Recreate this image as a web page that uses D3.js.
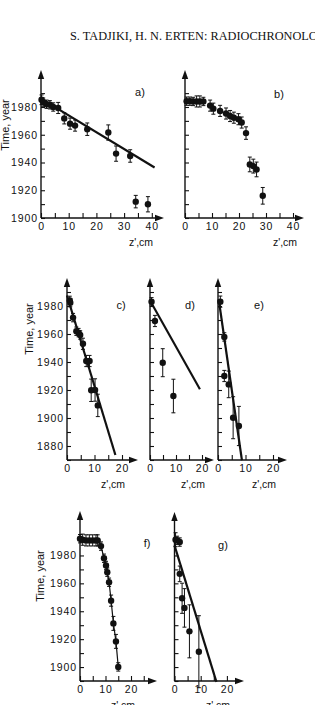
<!DOCTYPE html>
<html>
<head>
<meta charset="utf-8">
<script src="https://cdn.jsdelivr.net/npm/d3@7"></script>
<style>
  body { margin: 0; background: #fff; }
  svg { display: block; }
</style>
</head>
<body>
<svg id="chart" width="315" height="705"></svg>
<script>
// depth z' (cm), year, error (yr)
const aZ    = [0.2, 0.8, 2.0, 3.2, 4.4, 6.2, 8.4, 10.5, 12.3, 16.7, 24.3, 27.1, 32.2, 34.2, 38.6];
const aYear = [1985.2, 1983.5, 1982, 1981.6, 1980, 1979.3, 1971.8, 1968, 1966.6, 1964, 1961.6, 1946.4, 1944.7, 1911.8, 1909.9];
const aErr  = [3.5, 3, 3, 3, 3, 4, 4, 4, 4, 4.5, 5.5, 5.5, 4.5, 4.5, 5.5];
const aFitZ = [0, 41];
const aFitT = [1986, 1936.4];

const bZ    = [0.6, 1.8, 3.0, 4.3, 5.5, 6.8, 9.3, 10.5, 13, 15.2, 16.7, 18.1, 19.8, 21, 22.6, 24, 25.3, 26.5, 28.8];
const bYear = [1984.2, 1984.2, 1984, 1984, 1984, 1984, 1981, 1978.8, 1977.2, 1975.3, 1973.5, 1972.3, 1971.2, 1968.8, 1961.2, 1938.6, 1937.4, 1935, 1916];
const bErr  = [3, 3, 3, 4, 4, 3, 4, 4, 4, 4, 4, 4, 4, 4, 4.5, 5.3, 5, 5.3, 6];

const cZ    = [1, 1.2, 2.2, 3.4, 4.2, 4.8, 5.8, 7, 8.2, 8.8, 10.2, 11.2];
const cYear = [1984, 1982.4, 1971.7, 1962, 1961, 1959.3, 1953, 1940.7, 1940.7, 1919.8, 1920, 1909];
const cErr  = [3, 3, 3, 3, 3, 3, 4, 4, 4, 8, 8, 8];
const cFitZ = [0, 17.6];
const cFitT = [1987.5, 1873.6];

const dZ    = [0.6, 1.9, 4.9, 9.0];
const dYear = [1983, 1969.3, 1939.5, 1915.7];
const dErr  = [3, 4, 10, 12];
const dFitZ = [0.6, 19.2];
const dFitT = [1982, 1920.5];

const eZ    = [0.85, 2.3, 2.3, 3.9, 5.5, 7.6];
const eYear = [1983.1, 1957.9, 1930, 1924, 1900.2, 1894.3];
const eErr  = [4, 3, 4, 9.5, 15, 14];
const eFitZ = [0.25, 8.7];
const eFitT = [1984.8, 1869.8];

const fZ    = [0, 1.05, 2.35, 3.66, 4.97, 6.27, 6.93, 8.24, 9.41, 10.2, 10.7, 11.4, 12.2, 13.1, 14.1, 15.0];
const fYear = [1992, 1991.3, 1990.8, 1990.8, 1990.8, 1990.8, 1990.8, 1986.7, 1978, 1972.8, 1968, 1960.8, 1947.6, 1931.3, 1918.4, 1900.1];
const fErr  = [3, 4, 4, 4, 4, 4, 4, 3, 3, 3, 3, 3, 4, 5, 5, 3];

const gZ    = [0.4, 1.0, 2.0, 2.0, 2.9, 3.8, 5.7, 9.3];
const gYear = [1991.3, 1990.8, 1989.6, 1966.8, 1949.3, 1942.4, 1925.6, 1911];
const gErr  = [5, 3, 3, 5.6, 10.8, 13.8, 19, 25.8];
const gFitZ = [0, 16.0];
const gFitT = [1987.2, 1889.4];

const zTicks = [0, 10, 20, 30, 40];
const zTicksShort = [0, 10, 20];

// panel frames (pixels)
const panels = [
  { name: 'a)', z: aZ, t: aYear, e: aErr, fitZ: aFitZ, fitT: aFitT, left: 41, bottom: 218, top: 70, right: 164,
    xMax: 40, pxCm: 2.77, yMin: 1900, pxYr: 1.3875, yLabels: true, xLabels: zTicks,
    letter: [140, 96], zl: [141, 246], timeLabel: [9, 125] },
  { name: 'b)', z: bZ, t: bYear, e: bErr, left: 185, bottom: 218, top: 70, right: 304,
    xMax: 40, pxCm: 2.7, yMin: 1900, pxYr: 1.3875, yLabels: false, xLabels: zTicks,
    letter: [279, 98], zl: [285, 246] },
  { name: 'c)', z: cZ, t: cYear, e: cErr, fitZ: cFitZ, fitT: cFitT, left: 67, bottom: 460, top: 278, right: 138,
    xMax: 20, pxCm: 2.75, yMin: 1870, pxYr: 1.4, yLabels: true, xLabels: zTicksShort,
    letter: [121, 309], zl: [113, 488], timeLabel: [33, 329] },
  { name: 'd)', z: dZ, t: dYear, e: dErr, fitZ: dFitZ, fitT: dFitT, left: 150, bottom: 460, top: 278, right: 214,
    xMax: 20, pxCm: 2.6, yMin: 1870, pxYr: 1.4, yLabels: false, xLabels: zTicksShort,
    letter: [190, 309], zl: [193, 488] },
  { name: 'e)', z: eZ, t: eYear, e: eErr, fitZ: eFitZ, fitT: eFitT, left: 218, bottom: 460, top: 278, right: 287,
    xMax: 20, pxCm: 2.75, yMin: 1870, pxYr: 1.4, yLabels: false, xLabels: zTicksShort,
    letter: [259, 309], zl: [264, 488] },
  { name: 'f)', z: fZ, t: fYear, e: fErr, connect: true, left: 80, bottom: 681, top: 511, right: 157,
    xMax: 25, pxCm: 2.55, yMin: 1890, pxYr: 1.395, yLabels: true, xLabels: zTicksShort,
    letter: [147, 547], zl: [123, 709], timeLabel: [44, 576] },
  { name: 'g)', z: gZ, t: gYear, e: gErr, fitZ: gFitZ, fitT: gFitT, left: 174.5, bottom: 681, top: 512, right: 244,
    xMax: 20, pxCm: 2.62, yMin: 1890, pxYr: 1.395, yLabels: false, xLabels: zTicksShort,
    letter: [223, 549], zl: [218, 709] }
];

const svg = d3.select('#chart');
const font = '"Liberation Sans", Arial, sans-serif';

svg.append('text')
  .attr('x', 70).attr('y', 40)
  .attr('font-family', '"Liberation Serif", "Times New Roman", serif')
  .attr('font-size', 12.3)
  .attr('fill', '#111')
  .text('S. TADJIKI, H. N. ERTEN: RADIOCHRONOLOGY');

function drawPanel(p) {
  const g = svg.append('g');
  const x = d3.scaleLinear().domain([0, p.xMax]).range([p.left, p.left + p.xMax * p.pxCm]);
  const y = d3.scaleLinear().domain([p.yMin, p.yMin + 100]).range([p.bottom, p.bottom - 100 * p.pxYr]);

  const xAxis = d3.axisBottom(x)
    .tickValues(d3.range(0, p.xMax + 1, 5))
    .tickSize(-5).tickSizeOuter(0).tickPadding(4.5)
    .tickFormat(d => p.xLabels.includes(d) ? d : '');
  const gx = g.append('g').attr('transform', `translate(0,${p.bottom})`).call(xAxis);

  const yAxis = d3.axisLeft(y)
    .tickValues(d3.range(p.yMin, 1991, 10))
    .tickSize(-4).tickSizeOuter(0).tickPadding(3)
    .tickFormat(d => (p.yLabels && d % 20 === 0 && d <= 1980) ? d : '');
  const gy = g.append('g').attr('transform', `translate(${p.left},0)`).call(yAxis);

  [gx, gy].forEach(a => {
    a.select('.domain').remove();
    a.selectAll('line').attr('stroke', '#111').attr('stroke-width', 1.1);
    a.selectAll('text').attr('font-family', font).attr('font-size', 10.5)
      .attr('letter-spacing', 0.9).attr('fill', '#111');
  });

  // axis lines with arrow heads
  g.append('line').attr('x1', p.left).attr('x2', p.left).attr('y1', p.bottom).attr('y2', p.top + 5)
    .attr('stroke', '#111').attr('stroke-width', 1.4);
  g.append('line').attr('x1', p.left).attr('x2', p.right - 5).attr('y1', p.bottom).attr('y2', p.bottom)
    .attr('stroke', '#111').attr('stroke-width', 1.4);
  g.append('path')
    .attr('d', `M${p.left},${p.top}L${p.left - 3.2},${p.top + 9}L${p.left + 3.2},${p.top + 9}Z`)
    .attr('fill', '#111');
  g.append('path')
    .attr('d', `M${p.right},${p.bottom}L${p.right - 9},${p.bottom - 3.2}L${p.right - 9},${p.bottom + 3.2}Z`)
    .attr('fill', '#111');

  const pts = p.z.map((z, i) => ({ z, t: p.t[i], e: p.e[i] }));

  if (p.fitZ) {
    g.append('path')
      .datum(p.fitZ.map((z, i) => [z, p.fitT[i]]))
      .attr('d', d3.line().x(d => x(d[0])).y(d => y(d[1])))
      .attr('fill', 'none').attr('stroke', '#111').attr('stroke-width', 2.2);
  }
  if (p.connect) {
    g.append('path')
      .datum(pts)
      .attr('d', d3.line().x(d => x(d.z)).y(d => y(d.t)))
      .attr('fill', 'none').attr('stroke', '#111').attr('stroke-width', 1.2);
  }

  const eb = g.selectAll('g.eb').data(pts).join('g').attr('class', 'eb')
    .attr('stroke', '#111').attr('stroke-width', 1);
  eb.append('line').attr('x1', d => x(d.z)).attr('x2', d => x(d.z))
    .attr('y1', d => y(d.t - d.e)).attr('y2', d => y(d.t + d.e));
  eb.append('line').attr('x1', d => x(d.z) - 2).attr('x2', d => x(d.z) + 2)
    .attr('y1', d => y(d.t - d.e)).attr('y2', d => y(d.t - d.e));
  eb.append('line').attr('x1', d => x(d.z) - 2).attr('x2', d => x(d.z) + 2)
    .attr('y1', d => y(d.t + d.e)).attr('y2', d => y(d.t + d.e));

  g.selectAll('circle').data(pts).join('circle')
    .attr('cx', d => x(d.z)).attr('cy', d => y(d.t)).attr('r', 3.2)
    .attr('fill', '#111');

  g.append('text').attr('x', p.letter[0]).attr('y', p.letter[1])
    .attr('text-anchor', 'middle').attr('font-family', font).attr('font-size', 11)
    .attr('fill', '#111').text(p.name);

  g.append('text').attr('x', p.zl[0]).attr('y', p.zl[1])
    .attr('text-anchor', 'middle').attr('font-family', font).attr('font-size', 10.5)
    .attr('fill', '#111').text("z',cm");

  if (p.timeLabel) {
    g.append('text')
      .attr('transform', `translate(${p.timeLabel[0]},${p.timeLabel[1]}) rotate(-90)`)
      .attr('text-anchor', 'middle').attr('font-family', font).attr('font-size', 11)
      .attr('fill', '#111').text('Time, year');
  }
}

panels.forEach(drawPanel);
</script>
</body>
</html>
